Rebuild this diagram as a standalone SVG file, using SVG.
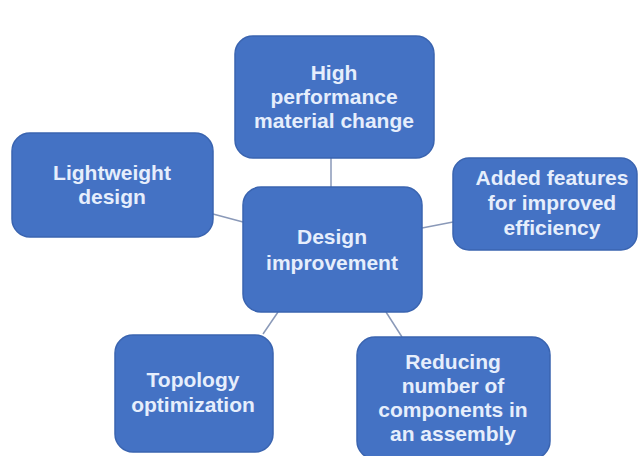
<svg xmlns="http://www.w3.org/2000/svg" width="640" height="456" viewBox="0 0 640 456">
<style>
.box{fill:#4472C4;stroke:#3A64B0;stroke-width:1.5}
.t{font-family:"Liberation Sans",Arial,sans-serif;font-size:21px;font-weight:bold;fill:#E6EEFC;text-anchor:middle}
.c{stroke:#8A99B8;stroke-width:1.5;fill:none}
</style>
<rect width="640" height="456" fill="#FFFFFF"/>
<g id="connectors">
<line class="c" x1="331" y1="158" x2="331" y2="187"/>
<line class="c" x1="213" y1="214" x2="243" y2="222"/>
<line class="c" x1="422" y1="228" x2="453" y2="222"/>
<line class="c" x1="278" y1="312" x2="263" y2="334"/>
<line class="c" x1="386" y1="312" x2="402" y2="337"/>
</g>
<g id="top">
<rect class="box" x="235" y="36" width="199" height="122" rx="18"/>
<text class="t" x="334" y="80">High</text>
<text class="t" x="334" y="104">performance</text>
<text class="t" x="334" y="128">material change</text>
</g>
<g id="left">
<rect class="box" x="12" y="133" width="201" height="104" rx="18"/>
<text class="t" x="112" y="180">Lightweight</text>
<text class="t" x="112" y="204">design</text>
</g>
<g id="right">
<rect class="box" x="453" y="158" width="184" height="92" rx="16"/>
<text class="t" x="552" y="185">Added features</text>
<text class="t" x="552" y="210">for improved</text>
<text class="t" x="552" y="235">efficiency</text>
</g>
<g id="center">
<rect class="box" x="243" y="187" width="179" height="125" rx="18"/>
<text class="t" x="332" y="244">Design</text>
<text class="t" x="332" y="270">improvement</text>
</g>
<g id="bottomleft">
<rect class="box" x="115" y="335" width="158" height="117" rx="18"/>
<text class="t" x="193" y="387">Topology</text>
<text class="t" x="193" y="412">optimization</text>
</g>
<g id="bottomright">
<rect class="box" x="357" y="337" width="193" height="122" rx="18"/>
<text class="t" x="453" y="369">Reducing</text>
<text class="t" x="453" y="393">number of</text>
<text class="t" x="453" y="417">components in</text>
<text class="t" x="453" y="441">an assembly</text>
</g>
</svg>
